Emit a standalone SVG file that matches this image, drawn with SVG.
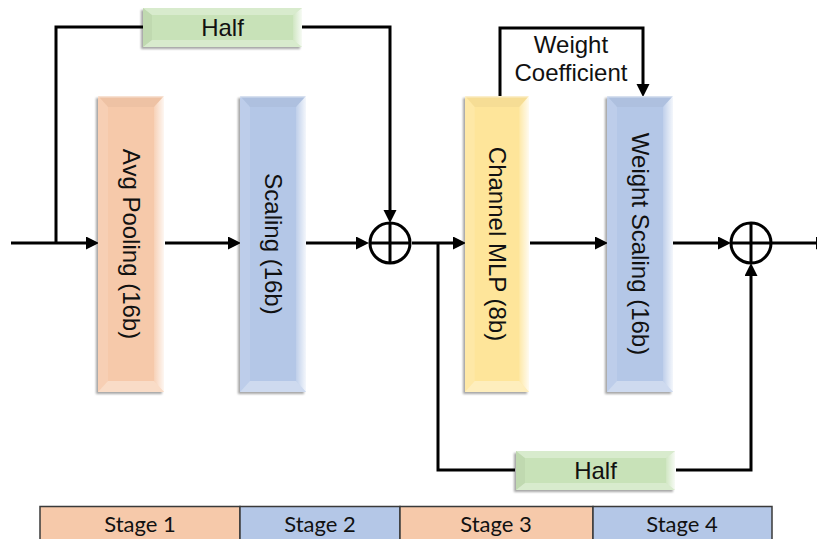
<svg xmlns="http://www.w3.org/2000/svg" width="817" height="539" viewBox="0 0 817 539">
  <defs>
    <style>
      .wire { fill: none; stroke: #000; stroke-width: 3; }
      .arrow { marker-end: url(#head); }
      .lbl { font-family: "Liberation Sans", Arial, sans-serif; font-size: 24px; fill: #111; }
      .vlbl { font-family: "Liberation Sans", Arial, sans-serif; font-size: 24px; fill: #111; text-anchor: middle; dominant-baseline: central; }
      .stage { font-family: Lato, "Open Sans", sans-serif; font-size: 22px; fill: #111; text-anchor: middle; }
      .cell { stroke: #3a3a3a; stroke-width: 1.5; }
      .orange { fill: #F6C9AA; }
      .blue { fill: #B4C7E7; }
      .yellow { fill: #FEE59A; }
      .green { fill: #C8E2B8; }
      .sum { fill: #fff; stroke: #000; stroke-width: 3; }
    </style>
    <marker id="head" markerUnits="userSpaceOnUse" markerWidth="14" markerHeight="14" refX="6" refY="6.5" orient="auto">
      <path d="M0,0 L13,6.5 L0,13 z" fill="#000"/>
    </marker>
    <filter id="shadow" x="-20%" y="-10%" width="140%" height="120%">
      <feDropShadow dx="-2" dy="2" stdDeviation="1.2" flood-color="#000" flood-opacity="0.35"/>
    </filter>
    <linearGradient id="rightSheen" x1="0" y1="0" x2="1" y2="0">
      <stop offset="0" stop-color="#fff" stop-opacity="0.15"/>
      <stop offset="1" stop-color="#fff" stop-opacity="0.85"/>
    </linearGradient>
    <!-- bevel facets for the tall 66x296 stage blocks -->
    <g id="bevelTall">
      <polygon points="0,0 66,0 56,11 10,11" fill="#000" fill-opacity="0.03"/>
      <polygon points="66,0 66,296 56,285 56,11" fill="url(#rightSheen)"/>
      <polygon points="0,296 66,296 56,285 10,285" fill="#fff" fill-opacity="0.35"/>
      <polygon points="0,0 10,11 10,285 0,296" fill="#fff" fill-opacity="0.12"/>
      <rect x="0" y="0" width="66" height="1.5" fill="#fff" fill-opacity="0.5"/>
    </g>
    <!-- bevel facets for the wide 159x39 "Half" blocks -->
    <g id="bevelWide">
      <polygon points="0,0 159,0 150,7 9,7" fill="#fff" fill-opacity="0.3"/>
      <polygon points="159,0 159,39 150,32 150,7" fill="url(#rightSheen)"/>
      <polygon points="0,39 159,39 150,32 9,32" fill="#fff" fill-opacity="0.3"/>
      <polygon points="0,0 9,7 9,32 0,39" fill="#000" fill-opacity="0.04"/>
    </g>
  </defs>

  <rect width="817" height="539" fill="#fff"/>

  <!-- connectors -->
  <g id="connectors">
    <path class="wire arrow" d="M11,243 H92"/>
    <path class="wire" d="M56,243 V27 H143"/>
    <path class="wire arrow" d="M302,27 H390 V216"/>
    <path class="wire arrow" d="M165,243 H234"/>
    <path class="wire arrow" d="M306,243 H362"/>
    <path class="wire arrow" d="M412,243 H459"/>
    <path class="wire" d="M438,243 V470 H515"/>
    <path class="wire arrow" d="M676,470 H751 V270"/>
    <path class="wire arrow" d="M530,243 H601"/>
    <path class="wire arrow" d="M673,243 H724"/>
    <path class="wire arrow" d="M772,243 H822"/>
    <path class="wire arrow" d="M500,96 V28 H643 V90"/>
  </g>

  <!-- stage blocks -->
  <g id="avg-pooling">
    <rect x="98" y="96" width="66" height="296" class="orange" filter="url(#shadow)"/>
    <use href="#bevelTall" transform="translate(98,96)"/>
    <text class="vlbl" transform="translate(131,244) rotate(90)">Avg Pooling (16b)</text>
  </g>
  <g id="scaling">
    <rect x="240" y="96" width="66" height="296" class="blue" filter="url(#shadow)"/>
    <use href="#bevelTall" transform="translate(240,96)"/>
    <text class="vlbl" transform="translate(273,244) rotate(90)">Scaling (16b)</text>
  </g>
  <g id="channel-mlp">
    <rect x="465" y="96" width="64" height="296" class="yellow" filter="url(#shadow)"/>
    <use href="#bevelTall" transform="translate(465,96) scale(0.97,1)"/>
    <text class="vlbl" transform="translate(497,244) rotate(90)">Channel MLP (8b)</text>
  </g>
  <g id="weight-scaling">
    <rect x="607" y="96" width="66" height="296" class="blue" filter="url(#shadow)"/>
    <use href="#bevelTall" transform="translate(607,96)"/>
    <text class="vlbl" transform="translate(640,244) rotate(90)">Weight Scaling (16b)</text>
  </g>

  <!-- half-shift blocks -->
  <g id="half-top">
    <rect x="143" y="8" width="159" height="39" class="green" filter="url(#shadow)"/>
    <use href="#bevelWide" transform="translate(143,8)"/>
    <text class="lbl" x="222.5" y="36" text-anchor="middle">Half</text>
  </g>
  <g id="half-bottom">
    <rect x="516" y="451" width="159" height="39" class="green" filter="url(#shadow)"/>
    <use href="#bevelWide" transform="translate(516,451)"/>
    <text class="lbl" x="595.5" y="479" text-anchor="middle">Half</text>
  </g>

  <!-- adders -->
  <g id="sum-1">
    <circle cx="390" cy="243" r="20" class="sum"/>
    <path class="wire" d="M370,243 H410 M390,223 V263"/>
  </g>
  <g id="sum-2">
    <circle cx="751" cy="243" r="20" class="sum"/>
    <path class="wire" d="M731,243 H771 M751,223 V263"/>
  </g>

  <!-- feedback label -->
  <g id="weight-coefficient">
    <text class="lbl" x="571" y="53" text-anchor="middle">Weight</text>
    <text class="lbl" x="571" y="81" text-anchor="middle">Coefficient</text>
  </g>

  <!-- pipeline stage table -->
  <g id="stage-table">
    <rect x="40" y="506.5" width="200" height="40" class="orange cell"/>
    <rect x="240" y="506.5" width="160" height="40" class="blue cell"/>
    <rect x="400" y="506.5" width="193" height="40" class="orange cell"/>
    <rect x="593" y="506.5" width="179" height="40" class="blue cell"/>
    <text class="stage" x="140" y="532">Stage 1</text>
    <text class="stage" x="320" y="532">Stage 2</text>
    <text class="stage" x="496" y="532">Stage 3</text>
    <text class="stage" x="682" y="532">Stage 4</text>
  </g>
</svg>
